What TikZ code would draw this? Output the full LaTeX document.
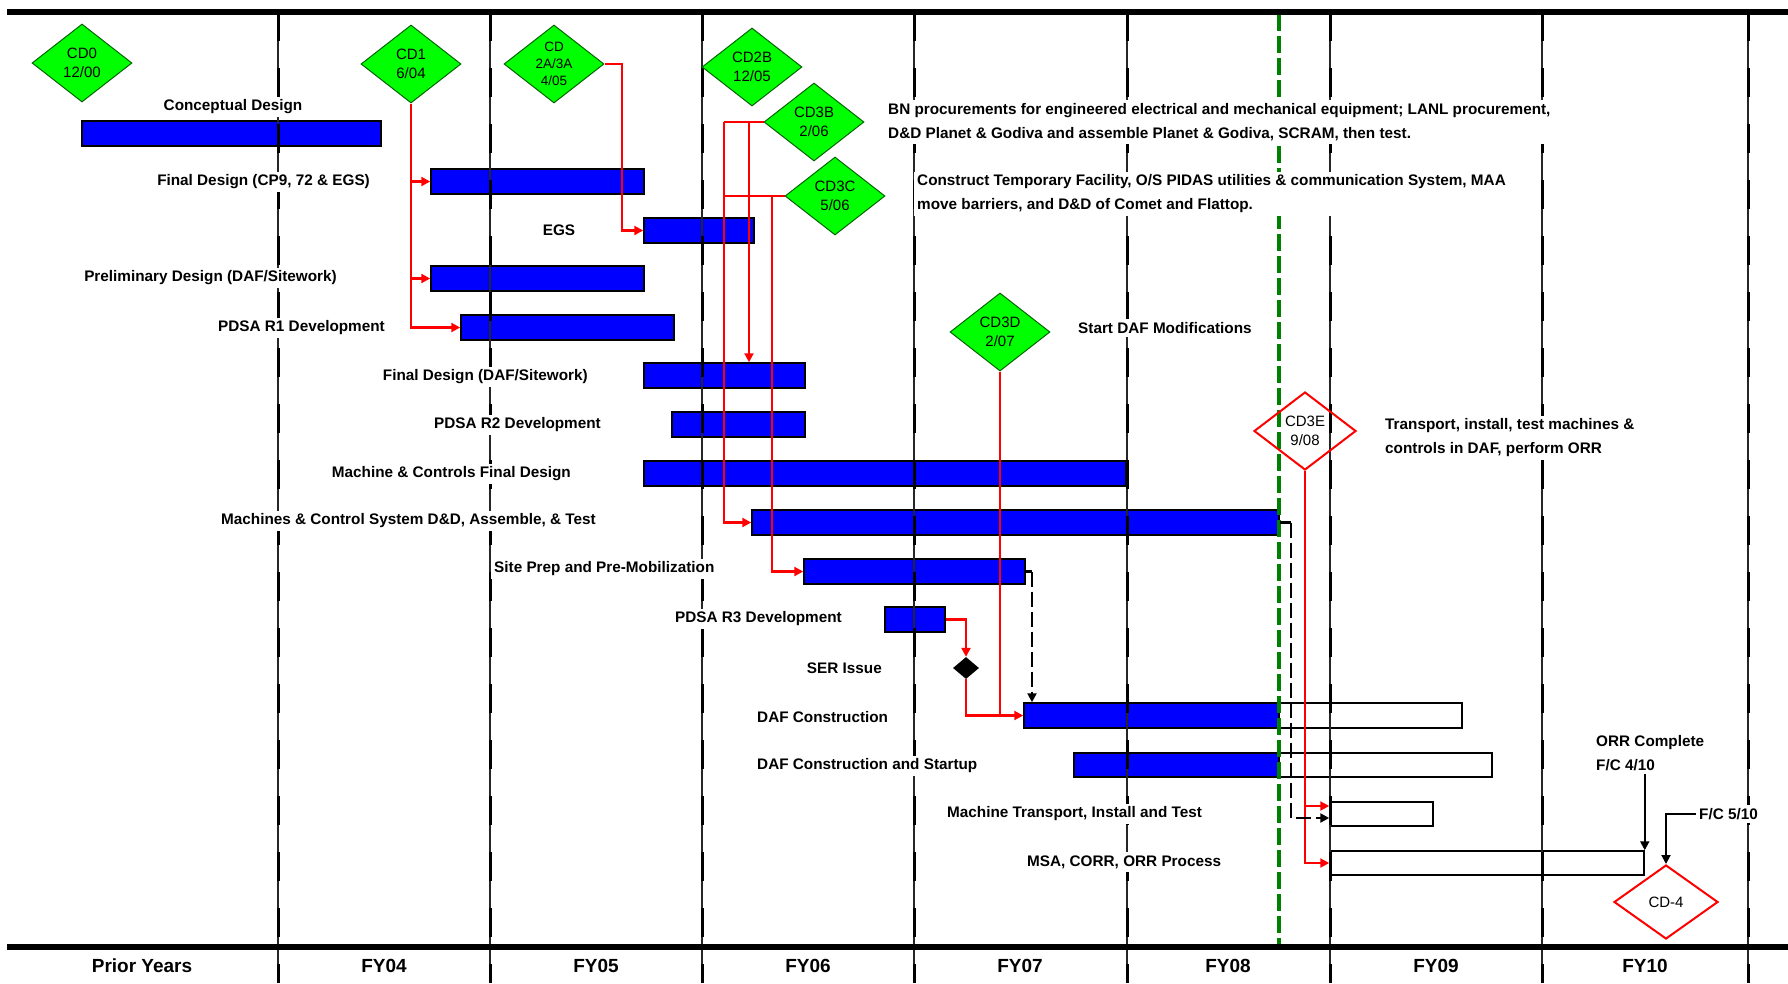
\documentclass[tikz,border=0pt]{standalone}
\usepackage{fontspec}
\setmainfont{Liberation Sans}
\usetikzlibrary{shapes.geometric,arrows.meta,fit}
\definecolor{barblue}{RGB}{0,0,255}
\definecolor{cdgreen}{RGB}{0,255,0}
\definecolor{cdedge}{RGB}{0,100,0}
\definecolor{fygreen}{RGB}{0,128,0}
\definecolor{cdred}{RGB}{255,0,0}
\begin{document}
\begin{tikzpicture}[x=1pt,y=-1pt,
 bar/.style={draw=black, line width=1.5pt, fill=barblue, inner sep=0pt},
 obox/.style={draw=black, line width=1.5pt, fill=white, inner sep=0pt},
 lbl/.style={font=\fontsize{15.3}{24}\bfseries\selectfont, fill=white, inner sep=3pt, align=left},
 yr/.style={font=\fontsize{19}{22}\bfseries\selectfont},
 cd/.style={diamond, aspect=1.3, draw=cdedge, line width=1pt, fill=cdgreen, inner sep=0pt, minimum width=100pt, minimum height=78pt, align=center, font=\fontsize{15}{18.7}\selectfont},
 cdr/.style={diamond, aspect=1.3, draw=cdred, line width=2pt, inner sep=0pt, minimum width=102pt, minimum height=78pt, align=center, font=\fontsize{15}{19}\selectfont},
 rarr/.style={draw=cdred, line width=2.2pt, -{Triangle[length=9pt,width=9pt]}},
 rline/.style={draw=cdred, line width=2.2pt},
 kdash/.style={draw=black, line width=2.6pt, dash pattern=on 15pt off 5pt, -{Triangle[length=9pt,width=9pt]}},
 karr/.style={draw=black, line width=2pt, -{Triangle[length=9pt,width=9pt]}},
 kline/.style={draw=black, line width=2.6pt},
 ythin/.style={draw=black!85, line width=1.8pt},
 ydash/.style={draw=black, line width=3pt, dash pattern=on 29pt off 27pt},
 gline/.style={draw=fygreen, line width=4.5pt, dash pattern=on 17pt off 5pt}
]
\useasboundingbox (0,0) rectangle (1788,983);
\fill[white] (0,0) rectangle (1788,983);

% bars
\node[bar, fit={(82,121) (381,146)}] (b1) {};
\node[bar, fit={(431,169) (644,194)}] (b2) {};
\node[bar, fit={(644,218) (754,243)}] (b3) {};
\node[bar, fit={(431,266) (644,291)}] (b4) {};
\node[bar, fit={(461,315) (674,340)}] (b5) {};
\node[bar, fit={(644,363) (805,388)}] (b6) {};
\node[bar, fit={(672,412) (805,437)}] (b7) {};
\node[bar, fit={(644,461) (1126,486)}] (b8) {};
\node[bar, fit={(752,510) (1279,535)}] (b9) {};
\node[bar, fit={(804,559) (1025,584)}] (b10) {};
\node[bar, fit={(885,607) (945,632)}] (b11) {};
\node[obox, fit={(1024,703) (1462,728)}] (b12o) {};
\node[bar, fit={(1024,703) (1279,728)}] (b12) {};
\node[obox, fit={(1074,753) (1492,777)}] (b13o) {};
\node[bar, fit={(1074,753) (1279,777)}] (b13) {};
\node[obox, fit={(1330,802) (1433,826)}] (b14) {};
\node[obox, fit={(1330,851) (1644,875)}] (b15) {};

% year grid lines
\foreach \x in {278,490,702,914,1127,1330,1542,1748} {
  \draw[ythin] (\x,12) -- (\x,983);
  \draw[ydash] (\x,12) -- (\x,983);
}
% status line
\draw[gline] (1279,14) -- (1279,947);

% labels
\node[lbl] (l1) at (233,107) {Conceptual Design};
\node[lbl, anchor=east] (l2) at (373,182) {Final Design (CP9, 72 \& EGS)};
\node[lbl] (l3) at (559,230) {EGS};
\node[lbl, anchor=east] (l4) at (340,278) {Preliminary Design (DAF/Sitework)};
\node[lbl, anchor=east] (l5) at (388,328) {PDSA R1 Development};
\node[lbl, anchor=east] (l6) at (591,377) {Final Design (DAF/Sitework)};
\node[lbl, anchor=east] (l7) at (604,425) {PDSA R2 Development};
\node[lbl, anchor=east] (l8) at (574,474) {Machine \& Controls Final Design};
\node[lbl, anchor=east] (l9) at (599,521) {Machines \& Control System D\&D, Assemble, \& Test};
\node[lbl, anchor=west] (l10) at (491,569) {Site Prep and Pre-Mobilization};
\node[lbl, anchor=east] (l11) at (845,619) {PDSA R3 Development};
\node[lbl, anchor=east] (l12) at (885,668) {SER Issue};
\node[lbl, anchor=west] (l13) at (754,717) {DAF Construction};
\node[lbl, anchor=west] (l14) at (754,766) {DAF Construction and Startup};
\node[lbl, anchor=west] (l15) at (944,814) {Machine Transport, Install and Test};
\node[lbl, anchor=west] (l16) at (1024,862) {MSA, CORR, ORR Process};

% annotations
\node[lbl, anchor=west] (n1) at (885,122) {BN procurements for engineered electrical and mechanical equipment; LANL procurement,\\D\&D Planet \& Godiva and assemble Planet \& Godiva, SCRAM, then test.};
\node[lbl, anchor=west] (n2) at (914,194) {Construct Temporary Facility, O/S PIDAS utilities \& communication System, MAA\\move barriers, and D\&D of Comet and Flattop.};
\node[lbl, anchor=west] (n3) at (1075,328) {Start DAF Modifications};
\node[lbl, anchor=west] (n4) at (1382,438) {Transport, install, test machines \&\\controls in DAF, perform ORR};
\node[lbl, anchor=west] (n5) at (1593,753) {ORR Complete\\F/C 4/10};
\node[lbl, anchor=west] (n6) at (1696,814) {F/C 5/10};

% milestones
\node[cd] (cd0) at (82,63) {CD0\\12/00};
\node[cd] (cd1) at (411,64) {CD1\\6/04};
\node[cd, font=\fontsize{13.5}{17}\selectfont] (cd2a) at (554,64) {CD\\2A/3A\\4/05};
\node[cd] (cd2b) at (752,67) {CD2B\\12/05};
\node[cd] (cd3b) at (814,122) {CD3B\\2/06};
\node[cd] (cd3c) at (835,196) {CD3C\\5/06};
\node[cd] (cd3d) at (1000,332) {CD3D\\2/07};
\node[cdr] (cd3e) at (1305,431) {CD3E\\9/08};
\node[cdr, minimum height=74pt, minimum width=104pt] (cd4) at (1666,902) {CD-4};
\node[diamond, fill=black, minimum width=26pt, minimum height=22pt, inner sep=0pt] (ser) at (966,668) {};

% helper coordinates
\coordinate (k1) at (622,0);
\coordinate (v1) at (724,0);
\coordinate (v2) at (749,0);
\coordinate (v3) at (772,0);
\coordinate (k5) at (1032,0);
\coordinate (k6) at (1291,0);
\coordinate (t1) at ([yshift=8pt]b14.west);
\coordinate (t2) at ([yshift=-4pt]b14.west);

% red connectors
\draw[rarr] (cd1.south) |- (b5.west);
\draw[rarr] (cd1.south |- b2.west) -- (b2.west);
\draw[rarr] (cd1.south |- b4.west) -- (b4.west);
\draw[rarr] (cd2a.east) -| (k1 |- b3.west) -- (b3.west);
\draw[rline] (cd3b.west) -- (v1 |- cd3b.west);
\draw[rarr] (v1 |- cd3b.west) |- (b9.west);
\draw[rarr] (v2 |- cd3b.west) -- (v2 |- b6.north);
\draw[rline] (cd3c.west) -- (v1 |- cd3c.west);
\draw[rarr] (v3 |- cd3c.west) |- (b10.west);
\draw[rarr] (b11.east) -| (ser.north);
\draw[rline] (ser.south) |- (cd3d.south |- b12.west);
\draw[rarr] (cd3d.south) |- (b12.west);
\draw[rarr] (cd3e.south) |- (b15.west);
\draw[rarr] (cd3e.south |- t1) -- (t1);

% black connectors
\draw[kline] (b10.east) -- (k5 |- b10.east);
\draw[kdash] (k5 |- b10.east) -- (k5 |- b12o.north);
\draw[kline] (b9.east) -- (k6 |- b9.east);
\draw[kdash] (k6 |- b9.east) |- (t2);
\draw[karr] (b15.north east |- n5.south) -- (b15.north east);
\draw[karr] (n6.west) -| (cd4.north);

% frame lines
\draw[line width=5.5pt] (7,12) -- (1788,12);
\draw[line width=6pt] (7,947) -- (1788,947);

% years
\node[yr] (y0) at (142,966) {Prior Years};
\node[yr] (y1) at (384,966) {FY04};
\node[yr] (y2) at (596,966) {FY05};
\node[yr] (y3) at (808,966) {FY06};
\node[yr] (y4) at (1020,966) {FY07};
\node[yr] (y5) at (1228,966) {FY08};
\node[yr] (y6) at (1436,966) {FY09};
\node[yr] (y7) at (1645,966) {FY10};
\end{tikzpicture}
\end{document}
